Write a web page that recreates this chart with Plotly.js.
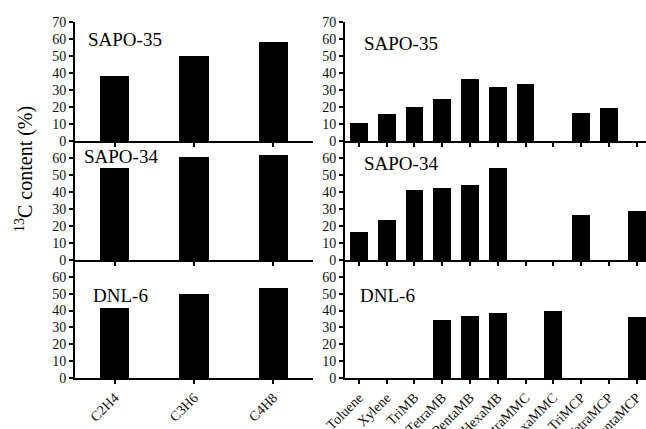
<!DOCTYPE html>
<html><head><meta charset="utf-8">
<script src="https://cdn.plot.ly/plotly-3.0.1.min.js"></script>
<style>html,body{margin:0;padding:0;background:#fff}</style>
</head><body><div id="chart" style="width:646px;height:429px"></div>
<script>
var olefins = ['C2H4','C3H6','C4H8'];
var aromatics = ['Toluene','Xylene','TriMB','TetraMB','PentaMB','HexaMB','TetraMMC','HexaMMC','TriMCP','TetraMCP','PentaMCP'];
var sapo35Olefins = [38, 50, 58.4];
var sapo34Olefins = [54, 60.4, 61.6];
var dnl6Olefins = [41.4, 49.8, 53.3];
var sapo35Aromatics = [10.4, 15.7, 19.8, 24.9, 36.3, 31.6, 33.3, 0, 16.5, 19.4, 0];
var sapo34Aromatics = [16.5, 23.7, 41.4, 42.2, 44.3, 54, 0, 0, 26.7, 0, 28.8];
var dnl6Aromatics = [0, 0, 0, 34.7, 37, 38.4, 0, 39.8, 0, 0, 36.3];
var panelNames = ['SAPO-35', 'SAPO-34', 'DNL-6'];
var yTitle = '<sup>13</sup>C content (%)';

var FONT = 'Liberation Serif, serif';
var W = 646, H = 429;
var leftDom = [75/W, 313/W];
var rightDom = [345/W, 1];
var yDoms = [[1-141/H, 1-22/H], [1-260/H, 1-141/H], [1-378/H, 1-260/H]];

var traces = [];
var olefinSets = [sapo35Olefins, sapo34Olefins, dnl6Olefins];
var aromSets = [sapo35Aromatics, sapo34Aromatics, dnl6Aromatics];
var layout = {
  width: W, height: H,
  margin: {l:0, r:0, t:0, b:0},
  paper_bgcolor: '#fff', plot_bgcolor: 'rgba(0,0,0,0)',
  showlegend: false,
  font: {family: FONT, color: '#111', size: 14},
  annotations: [],
  bargap: 0
};
for (var p = 0; p < 3; p++) {
  var li = 2*p + 1, ri = 2*p + 2;
  traces.push({type:'bar', x: olefins, y: olefinSets[p], width: 0.37,
    marker:{color:'#000', line:{width:0}}, xaxis:'x'+li, yaxis:'y'+li, hoverinfo:'skip'});
  traces.push({type:'bar', x: aromatics, y: aromSets[p], width: 0.64,
    marker:{color:'#000', line:{width:0}}, xaxis:'x'+ri, yaxis:'y'+ri, hoverinfo:'skip'});
  var showLab = (p === 2);
  var tv = (p === 0) ? [0,10,20,30,40,50,60,70] : [0,10,20,30,40,50,60];
  [[li, leftDom, olefins, [-0.5, 2.5]], [ri, rightDom, aromatics, [-0.5, 10.337]]].forEach(function(a){
    var n = a[0];
    layout['xaxis'+(n===1?'':n)] = {
      domain: a[1], anchor: 'y'+n, type:'category', categoryarray: a[2], categoryorder:'array',
      range: a[3], showgrid:false, zeroline:false, showline:true, linecolor:'#000', linewidth:2,
      ticks:'outside', ticklen:4, tickwidth:2, tickcolor:'#000',
      showticklabels: showLab, tickangle:-45, tickfont:{family:FONT, size:14, color:'#111'}
    };
    layout['yaxis'+(n===1?'':n)] = {
      domain: yDoms[p], anchor: 'x'+n, range:[0,70], tickvals: tv, ticktext: tv.map(String),
      showgrid:false, zeroline:false, showline:true, linecolor:'#000', linewidth:2,
      ticks:'outside', ticklen:4, tickwidth:2, tickcolor:'#000',
      tickfont:{family:FONT, size:14, color:'#111'}
    };
  });
}
var labelPos = [[[86, 40], [362, 44]], [[82, 157], [362, 164]], [[91, 295], [358, 295]]];
for (var p = 0; p < 3; p++) {
  for (var s = 0; s < 2; s++) {
    layout.annotations.push({text: panelNames[p], xref:'paper', yref:'paper',
      x: labelPos[p][s][0]/W, y: 1 - labelPos[p][s][1]/H, xanchor:'left', yanchor:'middle',
      showarrow:false, font:{family:FONT, size:19, color:'#000'}});
  }
}
layout.annotations.push({text: yTitle, xref:'paper', yref:'paper', x: 24/W, y: 1-169/H,
  xanchor:'center', yanchor:'middle', textangle:-90, showarrow:false,
  font:{family:FONT, size:20, color:'#000'}});

Plotly.newPlot('chart', traces, layout, {staticPlot:true, displayModeBar:false});
</script></body></html>
